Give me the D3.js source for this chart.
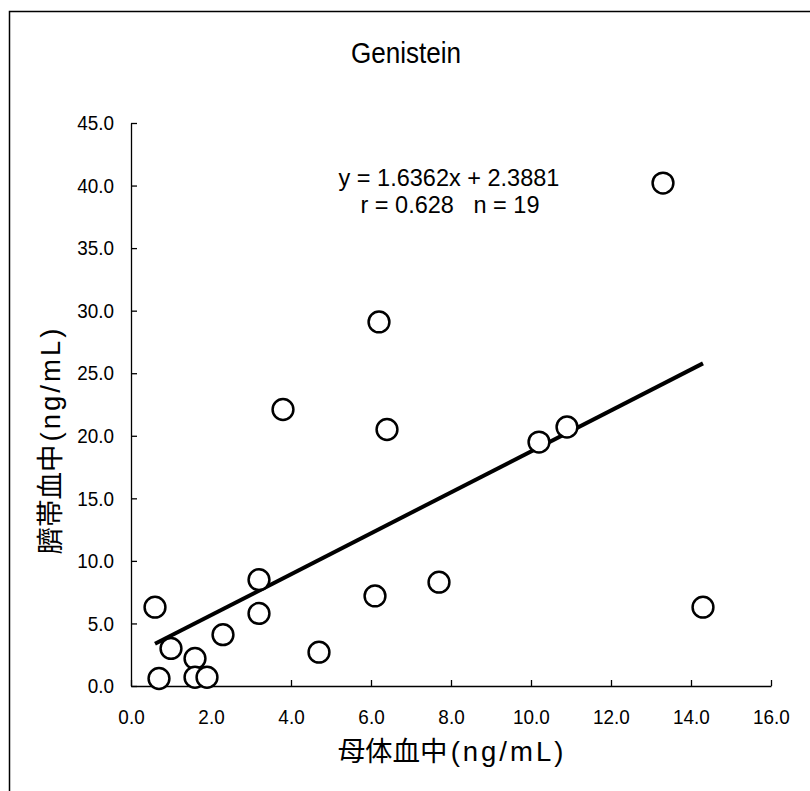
<!DOCTYPE html>
<html><head><meta charset="utf-8">
<script src="https://cdn.jsdelivr.net/npm/d3@7"></script>
<style>body{margin:0;background:#fff}svg{display:block}text{font-family:"Liberation Sans",Arial,"Noto Sans CJK JP",sans-serif;fill:#000}</style>
</head><body><svg id="c" width="810" height="791"></svg>
<script>
const xValues = [0.6, 0.7, 1.0, 1.6, 1.6, 1.9, 2.3, 3.2, 3.2, 3.8, 4.7, 6.1, 6.2, 6.4, 7.7, 10.2, 10.9, 13.3, 14.3];
const yValues = [6.3, 0.6, 3.0, 2.2, 0.7, 0.7, 4.1, 8.5, 5.8, 22.1, 2.7, 7.2, 29.1, 20.5, 8.3, 19.5, 20.7, 40.2, 6.3];
const xTicks = [0, 2, 4, 6, 8, 10, 12, 14, 16];
const yTicks = [0, 5, 10, 15, 20, 25, 30, 35, 40, 45];
const slope = 1.6362, intercept = 2.3881;
const fitRange = [0.6, 14.3];
const title = "Genistein";
const xTitleParts = ["母体血中", "(ng/mL)"];
const yTitleParts = ["臍帯血中", "(ng/mL)"];
const eqLines = ["y = 1.6362x + 2.3881", "r = 0.628   n = 19"];

const svg = d3.select("#c");
const x = d3.scaleLinear().domain([0, 16]).range([131, 771]);
const y = d3.scaleLinear().domain([0, 45]).range([686, 123]);

svg.append("rect").attr("x", 9.5).attr("y", 11.5).attr("width", 820).attr("height", 800)
  .attr("fill", "none").attr("stroke", "#000").attr("stroke-width", 1.5);

const fmt = d3.format(".1f");
const xa = svg.append("g").attr("transform", `translate(0,${y(0)})`)
  .call(d3.axisBottom(x).tickValues(xTicks).tickFormat(fmt).tickSizeInner(-6).tickSizeOuter(0).tickPadding(23));
const ya = svg.append("g").attr("transform", `translate(${x(0)},0)`)
  .call(d3.axisLeft(y).tickValues(yTicks).tickFormat(fmt).tickSizeInner(-6).tickSizeOuter(0).tickPadding(19));
[xa, ya].forEach(a => {
  a.select(".domain").attr("stroke", "#000").attr("stroke-width", 1.3);
  a.selectAll(".tick line").attr("stroke", "#000").attr("stroke-width", 1.3);
  a.selectAll(".tick text").attr("font-size", 21).attr("font-family", null).attr("transform", "scale(0.9,1)");
});

svg.append("line")
  .attr("x1", x(fitRange[0])).attr("y1", y(slope * fitRange[0] + intercept))
  .attr("x2", x(fitRange[1])).attr("y2", y(slope * fitRange[1] + intercept))
  .attr("stroke", "#000").attr("stroke-width", 4);

svg.append("g").selectAll("circle").data(xValues.map((v, i) => [v, yValues[i]])).join("circle")
  .attr("cx", d => x(d[0])).attr("cy", d => y(d[1])).attr("r", 10.4)
  .attr("fill", "#fff").attr("stroke", "#000").attr("stroke-width", 2.5);

svg.append("text").attr("transform", "translate(406,63) scale(0.9,1)").attr("text-anchor", "middle").attr("font-size", 29).text(title);
svg.append("text").attr("x", 449).attr("y", 186).attr("text-anchor", "middle").attr("font-size", 23.5).text(eqLines[0]);
svg.append("text").attr("x", 450).attr("y", 213).attr("text-anchor", "middle").attr("font-size", 23.5).style("white-space","pre").text(eqLines[1]);

const xt = svg.append("text").attr("x", 452).attr("y", 761).attr("text-anchor", "middle").attr("font-size", 27.5);
xt.append("tspan").text(xTitleParts[0]);
xt.append("tspan").attr("letter-spacing", 3).attr("dx", 3).text(xTitleParts[1]);
const yt = svg.append("text").attr("transform", "translate(60,440) rotate(-90)").attr("text-anchor", "middle").attr("font-size", 27.5);
yt.append("tspan").text(yTitleParts[0]);
yt.append("tspan").attr("letter-spacing", 3).attr("dx", 3).text(yTitleParts[1]);
</script></body></html>
